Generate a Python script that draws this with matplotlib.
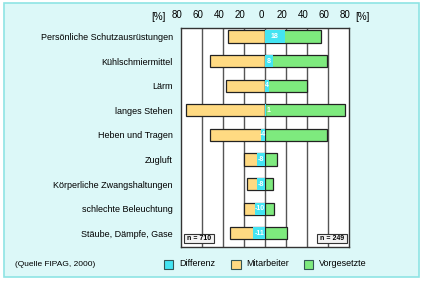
import matplotlib.pyplot as plt
from matplotlib.patches import Rectangle
from matplotlib.transforms import ScaledTranslation
import numpy as np

plt.rcParams['font.family'] = ['Liberation Sans', 'DejaVu Sans']

# Daten
kategorien = ['Persönliche Schutzausrüstungen', 'Kühlschmiermittel', 'Lärm',
              'langes Stehen', 'Heben und Tragen', 'Zugluft',
              'Körperliche Zwangshaltungen', 'schlechte Beleuchtung',
              'Stäube, Dämpfe, Gase']
mitarbeiter = [35, 52, 37, 75, 52, 20, 17, 20, 33]
vorgesetzte = [53, 59, 40, 76, 59, 11, 8, 9, 21]
differenz = [19, 8, 4, 1, -4, -8, -8, -10, -11]
diff_labels = ['18', '8', '4', '1', '-4', '-8', '-8', '-10', '-11']
ticks = [-80, -60, -40, -20, 0, 20, 40, 60, 80]

c_yel = '#ffda82'
c_grn = '#7eea7e'
c_cya = '#44e4f2'
c_bg = '#dcf8f8'

fig = plt.figure(figsize=(4.21, 2.82), dpi=100)
fig.patch.set_facecolor('white')
fig.patches.append(Rectangle((4 / 421, 1 - 277 / 282), 415 / 421, 274 / 282,
                             transform=fig.transFigure, facecolor=c_bg,
                             edgecolor='#8ee4e4', lw=1.2, zorder=-10))

ax = fig.add_axes([181 / 421, 1 - 247 / 282, 168 / 421, 219 / 282])
y = np.arange(len(kategorien))
h = 0.5

for g in ticks[1:-1]:
    ax.axvline(g, color='#555555', lw=1.0, zorder=0)

ax.barh(y, [-m for m in mitarbeiter], height=h, color=c_yel,
        edgecolor='#222222', lw=0.9, zorder=2)
ax.barh(y, vorgesetzte, height=h, color=c_grn,
        edgecolor='#222222', lw=0.9, zorder=2)
ax.barh(y, differenz, height=h, color=c_cya, edgecolor='none', zorder=3)

for i, d in enumerate(differenz):
    xpos = d / 2 if abs(d) >= 4 else 3 * np.sign(d)
    ax.text(xpos, i, diff_labels[i], color='white', fontsize=5,
            ha='center', va='center', zorder=4, fontweight='bold')

ax.set_xlim(-80, 80)
ax.set_ylim(len(kategorien) - 1 + 0.56, -0.35)
ax.set_yticks(y)
ax.set_yticklabels(kategorien, fontsize=6.5)
ax.tick_params(axis='y', length=0, pad=6)
ax.xaxis.tick_top()
ax.set_xticks(ticks)
ax.set_xticklabels([str(abs(t)) for t in ticks], fontsize=7)
ax.tick_params(axis='x', length=0, pad=6)
shift = ScaledTranslation(-4 / 100, 0, fig.dpi_scale_trans)
for lbl in ax.get_xticklabels():
    lbl.set_transform(lbl.get_transform() + shift)
for s in ax.spines.values():
    s.set_color('#333333')
    s.set_linewidth(1.0)

fig.text(158 / 421, 1 - 16.7 / 282, '[%]', fontsize=7, ha='center', va='center')
fig.text(362 / 421, 1 - 16.7 / 282, '[%]', fontsize=7, ha='center', va='center')

# n-Kästchen
for x0, txt in [(183.7, 'n = 710'), (316.7, 'n = 249')]:
    fig.patches.append(Rectangle((x0 / 421, 1 - 242.7 / 282), 30 / 421, 8.7 / 282,
                                 transform=fig.transFigure, facecolor='#f2f2f2',
                                 edgecolor='#333333', lw=0.8, zorder=5))
    fig.text((x0 + 15) / 421, 1 - 238.3 / 282, txt, fontsize=5,
             ha='center', va='center', zorder=6, fontweight='bold')

# Legende
fig.text(15 / 421, 1 - 264 / 282, '(Quelle FIPAG, 2000)', fontsize=6,
         ha='left', va='center')
for x0, col, txt in [(163.5, c_cya, 'Differenz'), (231, c_yel, 'Mitarbeiter'),
                     (303.5, c_grn, 'Vorgesetzte')]:
    fig.patches.append(Rectangle((x0 / 421, 1 - 268.5 / 282), 9.5 / 421, 9 / 282,
                                 transform=fig.transFigure, facecolor=col,
                                 edgecolor='#335555', lw=0.8))
    fig.text((x0 + 15.5) / 421, 1 - 264 / 282, txt, fontsize=6.5,
             ha='left', va='center')

fig.savefig('out.png', dpi=100)
